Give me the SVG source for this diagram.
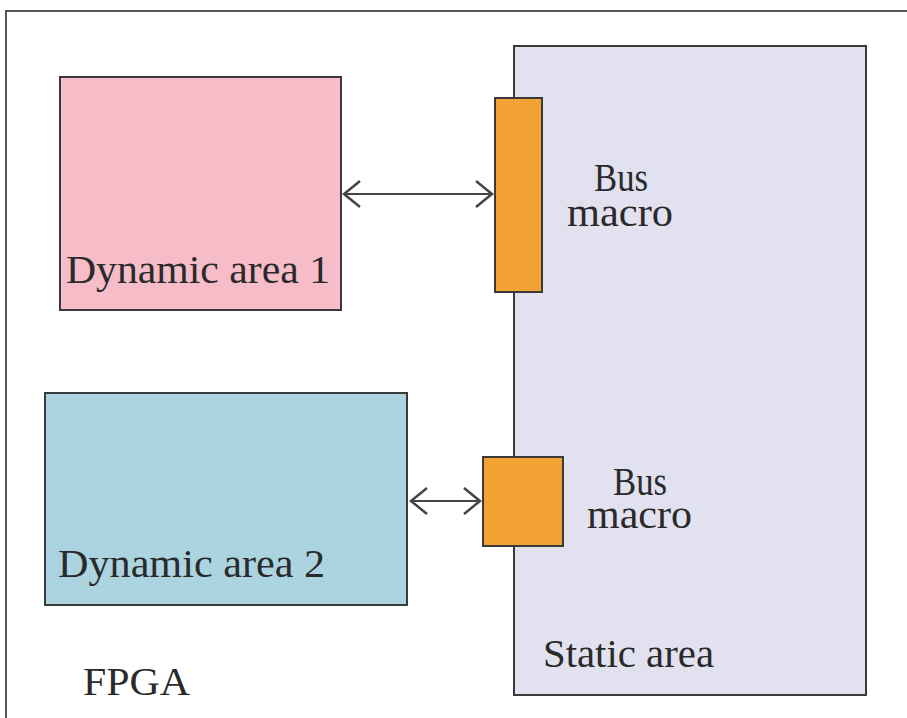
<svg xmlns="http://www.w3.org/2000/svg" width="907" height="718" viewBox="0 0 907 718">
  <defs>
    <style>
      .box { stroke: #3a3a3a; stroke-width: 2; }
      .lbl { font-family: "Liberation Serif", "Times New Roman", serif; font-size: 40px; fill: #2a2a2a; }
      .link { stroke: #444; stroke-width: 2; fill: none; }
    </style>
    <marker id="chev" viewBox="0 0 20 30" refX="18" refY="15" markerWidth="20" markerHeight="30" markerUnits="userSpaceOnUse" orient="auto-start-reverse">
      <path d="M2,2 L18,15 L2,28" fill="none" stroke="#444" stroke-width="2.5"/>
    </marker>
  </defs>

  <rect width="907" height="718" fill="#ffffff"/>

  <!-- FPGA boundary -->
  <g id="fpga">
    <rect x="6" y="11" width="920" height="730" fill="none" stroke="#555" stroke-width="2"/>
    <text class="lbl" x="83" y="695" textLength="107" lengthAdjust="spacingAndGlyphs">FPGA</text>
  </g>

  <!-- Static region with bus macros -->
  <g id="static-area">
    <rect class="box" x="514" y="46" width="352" height="649" fill="#e2e1f0"/>
    <text class="lbl" x="543" y="667" textLength="171" lengthAdjust="spacingAndGlyphs">Static area</text>
  </g>

  <g id="bus-macro-1">
    <rect class="box" x="495" y="98" width="47" height="194" fill="#f2a333"/>
    <text class="lbl" x="594" y="191" textLength="54" lengthAdjust="spacingAndGlyphs">Bus</text>
    <text class="lbl" x="567" y="226" textLength="106" lengthAdjust="spacingAndGlyphs">macro</text>
  </g>

  <g id="bus-macro-2">
    <rect class="box" x="483" y="457" width="80" height="89" fill="#f2a333"/>
    <text class="lbl" x="613" y="495" textLength="54" lengthAdjust="spacingAndGlyphs">Bus</text>
    <text class="lbl" x="587" y="528" textLength="105" lengthAdjust="spacingAndGlyphs">macro</text>
  </g>

  <!-- Reconfigurable regions -->
  <g id="dynamic-area-1">
    <rect class="box" x="60" y="77" width="281" height="233" fill="#f6bdc9"/>
    <text class="lbl" x="66" y="283" textLength="264" lengthAdjust="spacingAndGlyphs">Dynamic area 1</text>
  </g>

  <g id="dynamic-area-2">
    <rect class="box" x="45" y="393" width="362" height="212" fill="#acd4e0"/>
    <text class="lbl" x="58" y="577" textLength="267" lengthAdjust="spacingAndGlyphs">Dynamic area 2</text>
  </g>

  <!-- Connectors -->
  <g id="connectors">
    <line class="link" x1="344" y1="194" x2="492" y2="194" marker-start="url(#chev)" marker-end="url(#chev)"/>
    <line class="link" x1="411" y1="501" x2="480" y2="501" marker-start="url(#chev)" marker-end="url(#chev)"/>
  </g>
</svg>
